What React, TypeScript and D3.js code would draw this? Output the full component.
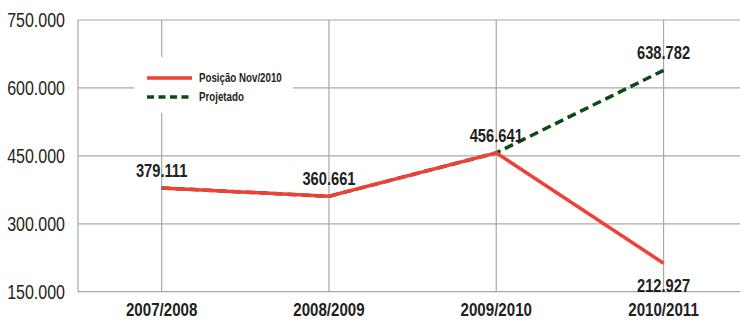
import React from "react";
import * as d3 from "d3";

const categories = ["2007/2008", "2008/2009", "2009/2010", "2010/2011"];
const posicaoValues = [379111, 360661, 456641, 212927];
const projetadoValues = [379111, 360661, 456641, 638782];
const yTicks = [150000, 300000, 450000, 600000, 750000];
const legendLabels = ["Posição Nov/2010", "Projetado"];
const labelBelow = [false, false, false, true];

const FONT = "'Liberation Sans', Arial, sans-serif";
const RED = "#ef4136";
const GREEN = "#0b4a17";
const GRID = "#a8a8aa";
const TEXT = "#231f20";

const locale = d3.formatLocale({ thousands: ".", grouping: [3], decimal: ",", currency: ["", ""] });
const fmt = locale.format(",d");

type TxtProps = {
  x: number;
  y: number;
  size: number;
  anchor?: "start" | "middle" | "end";
  bold?: boolean;
  sx?: number;
  children: React.ReactNode;
};

function Txt({ x, y, size, anchor = "start", bold = false, sx = 0.82, children }: TxtProps) {
  return (
    <text
      transform={`translate(${x},${y}) scale(${sx},1)`}
      textAnchor={anchor}
      fontFamily={FONT}
      fontSize={size}
      fontWeight={bold ? "bold" : "normal"}
      fill={TEXT}
    >
      {children}
    </text>
  );
}

export default function App() {
  const width = 740;
  const height = 320;
  const left = 78;
  const top = 20;
  const bottom = 291.7;
  const x = d3.scalePoint<string>().domain(categories).range([left, left + 4 * 167.3]).padding(0.5);
  const y = d3.scaleLinear().domain([150000, 750000]).range([bottom, top]);

  const line = d3
    .line<number>()
    .x((_, i) => x(categories[i]) as number)
    .y((d) => y(d));

  return (
    <svg width={width} height={height} style={{ position: "absolute", left: 0, top: 0, background: "#fff" }}>
      {yTicks.map((t) => (
        <line key={"h" + t} x1={left} x2={width} y1={y(t)} y2={y(t)} stroke={GRID} strokeWidth={1.2} />
      ))}
      {categories.map((c) => (
        <line key={"v" + c} x1={x(c)} x2={x(c)} y1={top} y2={bottom} stroke={GRID} strokeWidth={1.2} />
      ))}
      <line x1={left} x2={left} y1={top} y2={bottom} stroke={GRID} strokeWidth={1.2} />

      {yTicks.map((t) => (
        <Txt key={"yl" + t} x={65} y={y(t) + 7} size={20} anchor="end" sx={0.8}>
          {fmt(t)}
        </Txt>
      ))}

      {categories.map((c) => (
        <Txt key={"xl" + c} x={x(c) as number} y={316} size={18} anchor="middle" bold sx={0.84}>
          {c}
        </Txt>
      ))}

      <rect x={134} y={57} width={159} height={56} fill="#fff" />

      <path d={line(projetadoValues) || ""} fill="none" stroke={GREEN} strokeWidth={3.5} strokeDasharray="9,5" />
      <path d={line(posicaoValues) || ""} fill="none" stroke={RED} strokeWidth={3.5} />

      {categories.map((c, i) => {
        const v = c === "2010/2011" ? projetadoValues[i] : posicaoValues[i];
        return (
          <Txt key={"dl" + c} x={x(c) as number} y={y(v) - 11} size={17.5} anchor="middle" bold sx={0.84}>
            {fmt(v)}
          </Txt>
        );
      })}
      {categories.map((c, i) =>
        labelBelow[i] ? (
          <Txt key={"dlb" + c} x={x(c) as number} y={y(posicaoValues[i]) + 29} size={17.5} anchor="middle" bold sx={0.84}>
            {fmt(posicaoValues[i])}
          </Txt>
        ) : null
      )}

      <line x1={147} x2={192} y1={78} y2={78} stroke={RED} strokeWidth={3.5} />
      <line x1={147} x2={192} y1={97} y2={97} stroke={GREEN} strokeWidth={3.5} strokeDasharray="7,4.5" />
      <Txt x={199} y={82} size={12.5} bold sx={0.78}>
        {legendLabels[0]}
      </Txt>
      <Txt x={199} y={101} size={12.5} bold sx={0.78}>
        {legendLabels[1]}
      </Txt>
    </svg>
  );
}
